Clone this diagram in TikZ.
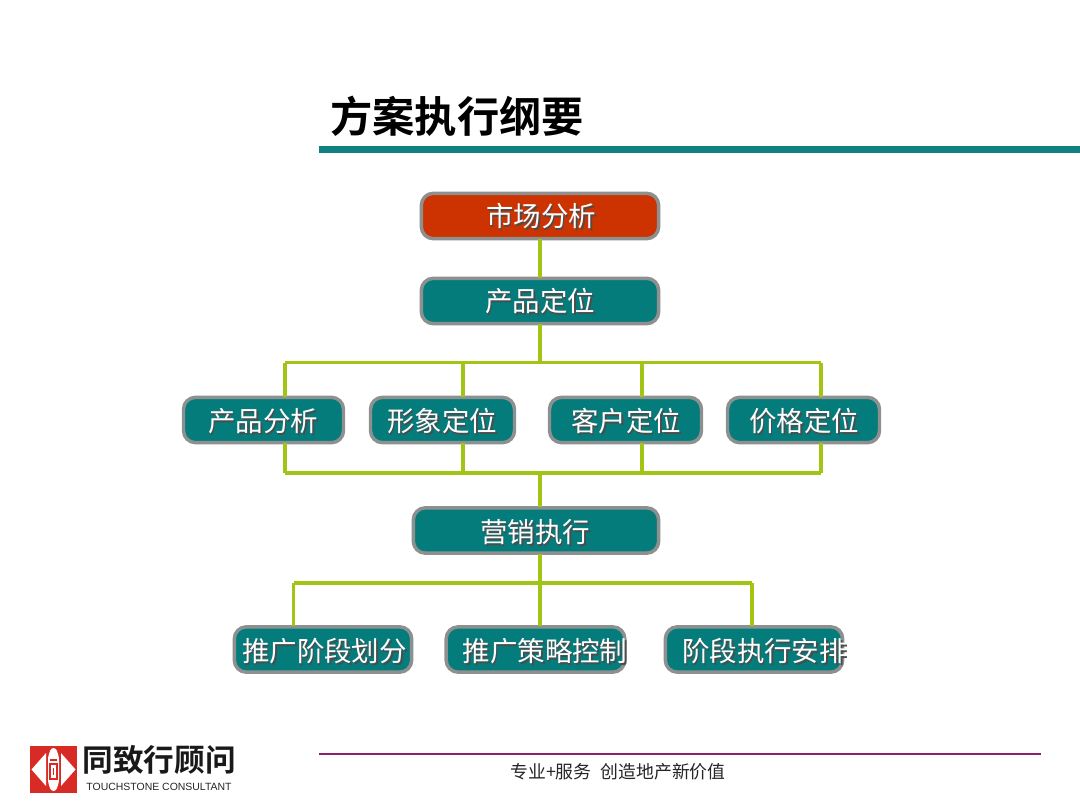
\documentclass[tikz,border=0pt]{standalone}
\usepackage{fontspec}
\setmainfont{Liberation Sans}
\newfontfamily\cjk{Noto Sans CJK SC}
\newfontfamily\cjkb{Noto Sans CJK SC Bold}
\definecolor{tealbox}{HTML}{047C7C}
\definecolor{redbox}{HTML}{CC3300}
\definecolor{edgegray}{HTML}{8E9090}
\definecolor{linkgreen}{HTML}{A2C414}
\definecolor{titlebar}{HTML}{108080}
\definecolor{footline}{HTML}{8E1F6E}
\definecolor{logored}{HTML}{D92B26}
\tikzset{
  x=0.75pt,y=-0.75pt,
  flowbox/.style={draw=edgegray,line width=2.6pt,rounded corners=9pt,fill=tealbox,minimum height=34pt,inner sep=0pt,outer sep=0.5pt},
  boxlabel/.style={font=\cjk\fontsize{20.6}{24}\selectfont,text=white,inner sep=0pt},
  boxshade/.style={font=\cjk\fontsize{20.6}{24}\selectfont,text=black!70,inner sep=0pt},
  link/.style={draw=linkgreen,line width=2.4pt},
}
\newcommand{\boxtext}[4]{%
  \node[boxshade] (#1s) at (#2+1.8,#3+1.8) {#4};
  \node[boxlabel] (#1t) at (#2,#3) {#4};}
\begin{document}
\begin{tikzpicture}
\useasboundingbox (0,0) rectangle (1080,810);
\fill[white] (0,0) rectangle (1080,810);
% title
\node[anchor=center,inner sep=0pt,font=\cjkb\fontsize{31.7}{36}\selectfont] (title) at (457,116) {方案执行纲要};
\fill[titlebar] (319,146) rectangle (1080,153);
% connector junctions
\coordinate (busa) at (285,362.5);
\coordinate (busb) at (463,362.5);
\coordinate (busc) at (642,362.5);
\coordinate (busd) at (821,362.5);
\coordinate (bota) at (285,473);
\coordinate (botb) at (463,473);
\coordinate (botc) at (642,473);
\coordinate (botd) at (821,473);
\coordinate (lowa) at (293.5,583);
\coordinate (lowb) at (752,583);
% boxes
\node[flowbox,fill=redbox,minimum width=178pt] (market) at (540,216) {};
\node[flowbox,minimum width=178pt] (position) at (540,301) {};
\node[flowbox,minimum width=120pt] (prodan) at (263.5,420) {};
\node[flowbox,minimum width=108pt] (image) at (442.5,420) {};
\node[flowbox,minimum width=114pt] (client) at (625.5,420) {};
\node[flowbox,minimum width=114pt] (price) at (803.5,420) {};
\node[flowbox,minimum width=184pt] (sales) at (536,530.5) {};
\node[flowbox,minimum width=133pt] (stage) at (323,649.5) {};
\node[flowbox,minimum width=134pt] (strategy) at (535.5,649.5) {};
\node[flowbox,minimum width=133pt] (plan) at (754,649.5) {};
% connectors
\draw[link] (market.south) -- (position.north);
\draw[link] (position.south) -- (position.south |- busa);
\draw[link] (busa) -- (busd);
\draw[link] (busa) -- (busa |- prodan.north);
\draw[link] (busb) -- (busb |- image.north);
\draw[link] (busc) -- (busc |- client.north);
\draw[link] (busd) -- (busd |- price.north);
\draw[link] (bota) -- (botd);
\draw[link] (bota) -- (bota |- prodan.south);
\draw[link] (botb) -- (botb |- image.south);
\draw[link] (botc) -- (botc |- client.south);
\draw[link] (botd) -- (botd |- price.south);
\draw[link] (position.south |- bota) -- (position.south |- sales.north);
\draw[link] (position.south |- sales.south) -- (position.south |- lowa);
\draw[link] (lowa) -- (lowb);
\draw[link] (lowa) -- (lowa |- stage.north);
\draw[link] (lowb) -- (lowb |- plan.north);
\draw[link] (position.south |- lowa) -- (position.south |- strategy.north);
% labels
\boxtext{market}{541}{216}{市场分析}
\boxtext{position}{540}{301.5}{产品定位}
\boxtext{prodan}{263}{421}{产品分析}
\boxtext{image}{442}{421}{形象定位}
\boxtext{client}{626}{421}{客户定位}
\boxtext{price}{804}{421}{价格定位}
\boxtext{sales}{535}{532}{营销执行}
\boxtext{stage}{324.5}{651}{推广阶段划分}
\begin{scope}
\clip (440,620) rectangle (627.5,680);
\boxtext{strategy}{545}{651}{推广策略控制}
\end{scope}
\begin{scope}
\clip (660,620) rectangle (846,680);
\boxtext{plan}{764.5}{651}{阶段执行安排}
\end{scope}
% footer
\draw[footline,line width=1pt] (319,754) -- (1041,754);
\node[inner sep=0pt,font=\cjk\fontsize{13.4}{16}\selectfont,text=black!85] (slogan) at (618,772) {专业+服务\hspace{0.5em}创造地产新价值};
% logo
\fill[logored] (30,746) rectangle (77,793);
\fill[white] (31.5,769.5) -- (46,753) -- (46,786) -- cycle;
\fill[white] (75.5,769.5) -- (61,753) -- (61,786) -- cycle;
\fill[white,rounded corners=2pt] (48,757) -- (51,748) -- (56,748) -- (59,757) -- (59,782) -- (56,791) -- (51,791) -- (48,782) -- cycle;
\draw[logored,line width=0.9pt] (50,760) -- (57,760) (50,764) rectangle (57,779) (53.5,768) -- (53.5,775);
\node[inner sep=0pt,font=\cjkb\fontsize{23}{26}\selectfont,text=black!90] (logoname) at (159,760) {同致行顾问};
\node[inner sep=0pt,font=\fontsize{7.85}{9}\selectfont,text=black!85] (logoen) at (159,787) {TOUCHSTONE CONSULTANT};
\end{tikzpicture}
\end{document}
